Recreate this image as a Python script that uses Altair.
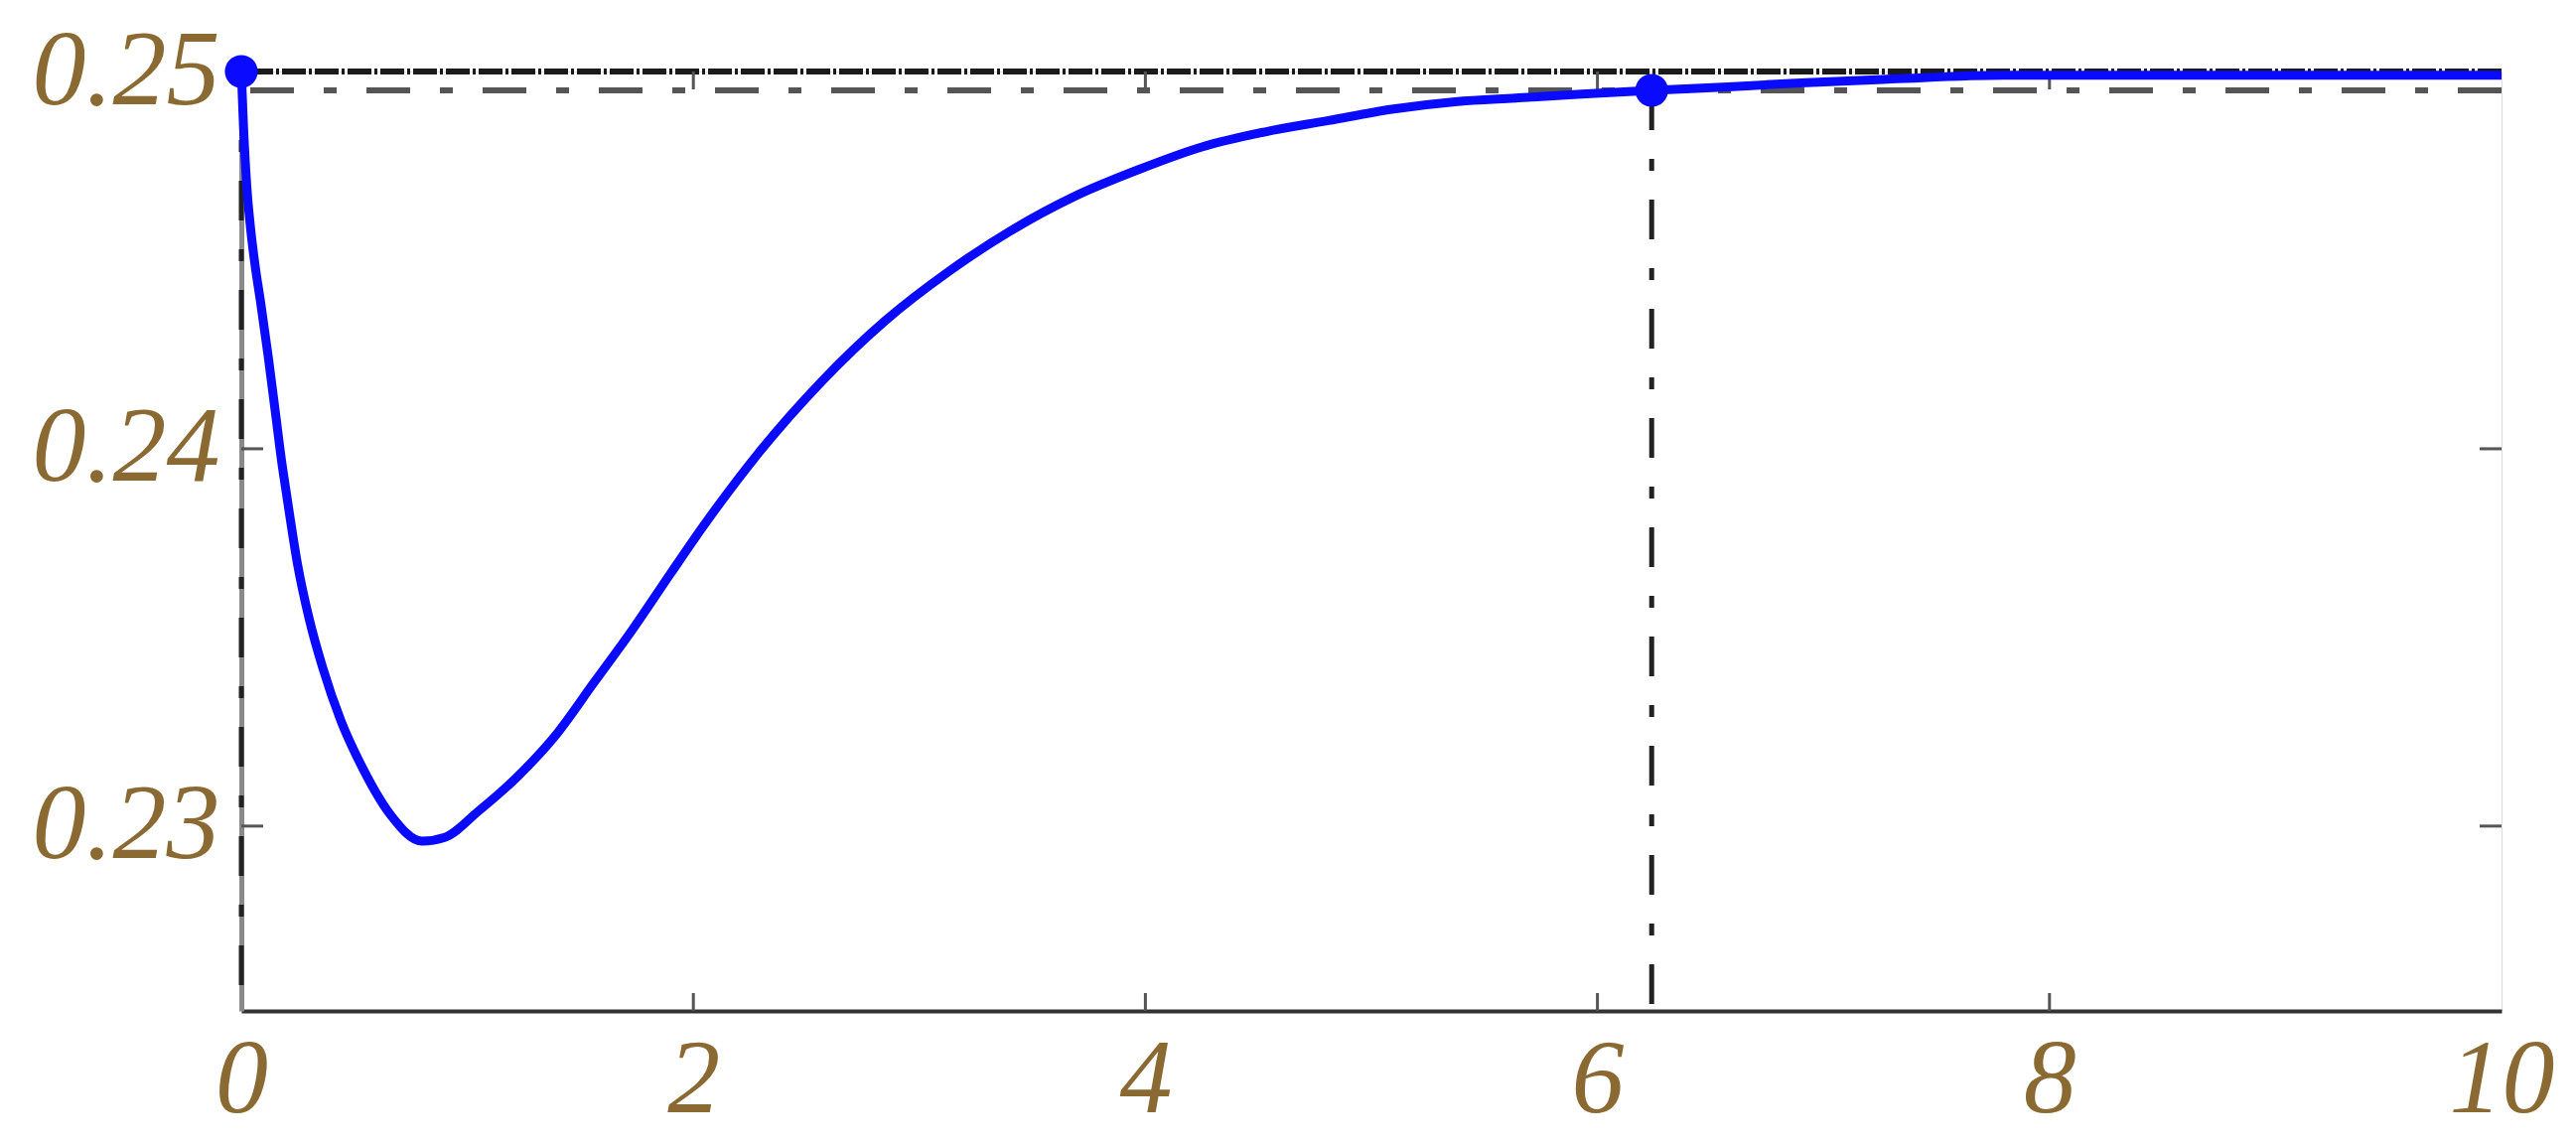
import altair as alt
import pandas as pd

# ---- data ----
t_vals = [0, 0.01, 0.025, 0.04, 0.06, 0.085, 0.12, 0.15, 0.18, 0.2, 0.25, 0.3, 0.36, 0.44,
          0.54, 0.66, 0.8, 0.9, 1.05, 1.22, 1.39, 1.56, 1.73, 1.9, 2.05, 2.29, 2.57, 2.85,
          3.13, 3.41, 3.69, 3.97, 4.25, 4.53, 4.81, 5.09, 5.37, 5.65, 5.93, 6.24, 6.6, 6.9,
          7.3, 7.8, 8.5, 9.2, 10]
y_vals = [0.25, 0.2485, 0.2469, 0.2459, 0.2449, 0.2439, 0.2424, 0.2410, 0.2396, 0.2388,
          0.2369, 0.2355, 0.2342, 0.2328, 0.2315, 0.2303, 0.2296, 0.2297, 0.2304, 0.2313,
          0.2324, 0.2338, 0.2352, 0.2367, 0.2380, 0.2399, 0.2418, 0.2434, 0.2447, 0.2458,
          0.2467, 0.2474, 0.2480, 0.2484, 0.2487, 0.2490, 0.2492, 0.2493, 0.2494, 0.2495,
          0.2496, 0.2497, 0.2498, 0.2499, 0.2499, 0.2499, 0.2499]

x_ticks = [0, 2, 4, 6, 8, 10]
y_ticks = [0.23, 0.24, 0.25]
inner_x_ticks = [2, 4, 6, 8]
inner_y_ticks = [0.23, 0.24]

x_domain = [0, 10]
y_domain = [0.2251, 0.25]

marker_t = [0, 6.24]
marker_y = [0.25, 0.2495]
top_level = [0.25]
settle_level = [0.2495]

W, H = 2276, 946

df = pd.DataFrame({"t": t_vals, "y": y_vals})
df_mark = pd.DataFrame({"t": marker_t, "y": marker_y, "ybot": [y_domain[0]] * len(marker_t)})
df_top = pd.DataFrame({"y": top_level})
df_settle = pd.DataFrame({"y": settle_level})
df_xt = pd.DataFrame({"t": inner_x_ticks})
df_yt = pd.DataFrame({"y": inner_y_ticks})

xs = alt.Scale(domain=x_domain, nice=False, zero=False)
ys = alt.Scale(domain=y_domain, nice=False, zero=False)

label_color = "#8a6a32"
font = "Liberation Serif"

ax_x = alt.Axis(values=x_ticks, format="d", labelFont=font, labelFontSize=106,
                labelFontStyle="italic", labelColor=label_color, labelPadding=17,
                ticks=False, grid=False, domainColor="#333333", domainWidth=4,
                labelFlush=False, labelOverlap=False, labelLimit=0)
ax_y = alt.Axis(values=y_ticks, format=".2f", labelFont=font, labelFontSize=108,
                labelFontStyle="italic", labelColor=label_color, labelPadding=22,
                ticks=False, grid=False, domainColor="#8a8a8a", domainWidth=5,
                labelFlush=False, labelOverlap=False, labelLimit=0)

X = lambda: alt.X("t:Q", scale=xs, title="", axis=ax_x)
Y = lambda: alt.Y("y:Q", scale=ys, title="", axis=ax_y)

curve = alt.Chart(df).mark_line(color="#0a0aff", strokeWidth=9, strokeJoin="round",
                                interpolate="monotone").encode(x=X(), y=Y())

top_line = alt.Chart(df_top).mark_rule(color="#1a1a1a", strokeWidth=6,
                                       strokeDash=[24, 3, 3, 3]).encode(y=Y())

settle_line = alt.Chart(df_settle).mark_rule(color="#555555", strokeWidth=6,
                                             strokeDash=[44, 30, 13, 30]).encode(y=Y())

vlines = alt.Chart(df_mark).mark_rule(color="#222222", strokeWidth=5,
                                      strokeDash=[40, 29, 12, 29]).encode(
    x=X(), y=Y(), y2="ybot:Q")

markers = alt.Chart(df_mark).mark_circle(size=1100, color="#0a0aff", opacity=1).encode(
    x=X(), y=Y())

tick_style = dict(color="#555555", strokeWidth=3)
bottom_ticks = alt.Chart(df_xt).mark_rule(**tick_style).encode(
    x=X(), y=alt.value(H), y2=alt.value(H - 18))
top_ticks = alt.Chart(df_xt).mark_rule(**tick_style).encode(
    x=X(), y=alt.value(0), y2=alt.value(18))
left_ticks = alt.Chart(df_yt).mark_rule(**tick_style).encode(
    y=Y(), x=alt.value(0), x2=alt.value(22))
right_ticks = alt.Chart(df_yt).mark_rule(**tick_style).encode(
    y=Y(), x=alt.value(W), x2=alt.value(W - 22))

chart = alt.layer(
    settle_line, top_line, vlines, bottom_ticks, top_ticks, left_ticks, right_ticks,
    curve, markers
).properties(
    width=W, height=H,
    padding={"left": 235, "top": 64, "right": 64, "bottom": 127},
    autosize=alt.AutoSizeParams(type="none"),
).configure_view(
    stroke="#7a7a7a", strokeWidth=4
).configure(background="white")

chart.save("out.html", embed_options={"renderer": "svg", "actions": False})
